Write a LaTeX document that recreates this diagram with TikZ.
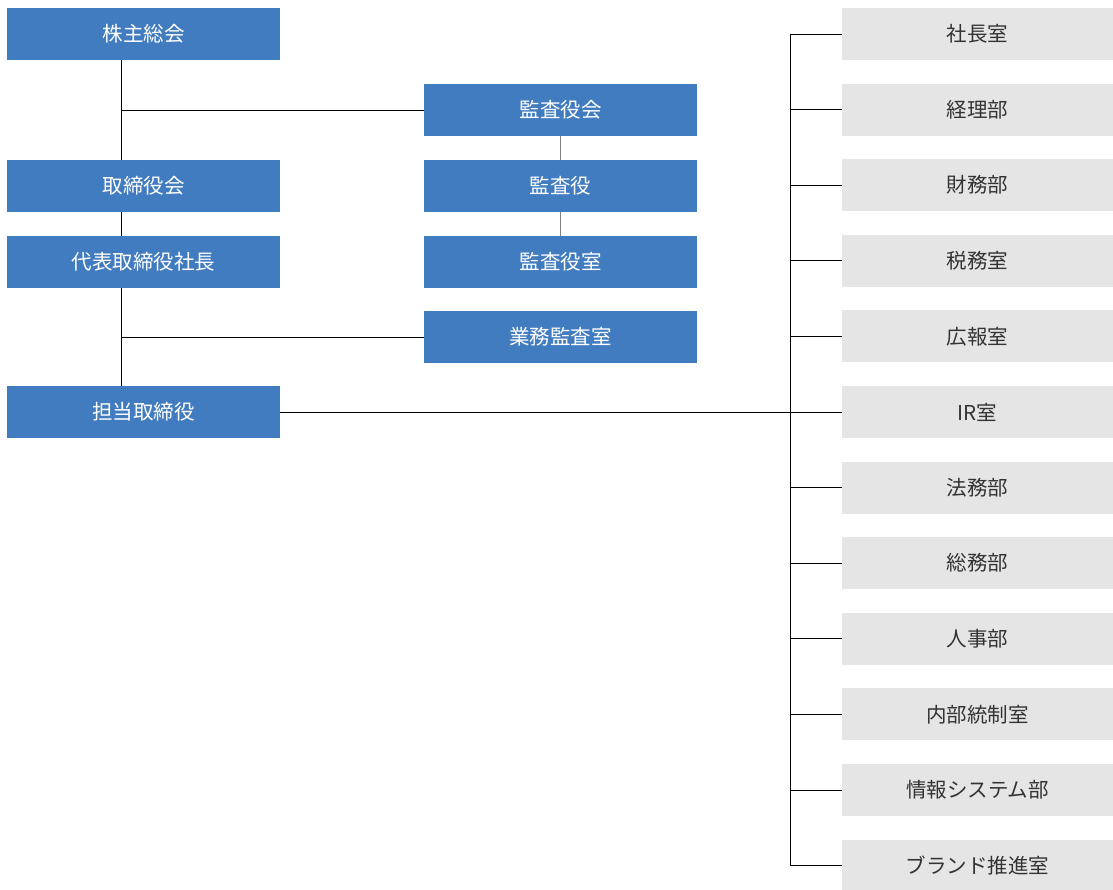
\documentclass[tikz,border=0pt]{standalone}
\usepackage{fontspec}
\setmainfont{Noto Sans CJK JP}
\definecolor{boxblue}{HTML}{427CC0}
\definecolor{boxgray}{HTML}{E6E5E6}
\definecolor{textgray}{HTML}{333333}
\definecolor{linegray}{HTML}{7F7F7F}

\begin{document}
\begin{tikzpicture}[x=1pt,y=-1pt,
		bluebox/.style={fill=boxblue, text=white, minimum width=273pt, minimum height=52pt, inner sep=0pt, font=\fontsize{20.5}{24}\selectfont},
		graybox/.style={fill=boxgray, text=textgray, minimum width=271pt, minimum height=52pt, inner sep=0pt, font=\fontsize{20.5}{24}\selectfont},
		conn/.style={draw=black, line width=1pt}]
		\useasboundingbox (0,0) rectangle (1113,889);
		
		% left column
		\node[bluebox] (soukai) at (143.5,34) {株主総会};
		\node[bluebox] (torikai) at (143.5,186) {取締役会};
		\node[bluebox] (shachou) at (143.5,262) {代表取締役社長};
		\node[bluebox] (tantou) at (143.5,412) {担当取締役};
		
		% audit column
		\node[bluebox] (kansakai) at (560.5,110) {監査役会};
		\node[bluebox] (kansa) at (560.5,186) {監査役};
		\node[bluebox] (kansashitsu) at (560.5,262) {監査役室};
		\node[bluebox] (gyoumu) at (560.5,337) {業務監査室};
		
		% departments
		\foreach \name [count=\i] in {社長室,経理部,財務部,税務室,広報室,IR室,法務部,総務部,人事部,内部統制室,情報システム部,ブランド推進室}
			\node[graybox] (dept\i) at (977.5,{34+75.6*(\i-1)}) {\name};
		
		\coordinate (trunk) at (121,0);
		\coordinate (spine) at (790,0);
		
		\draw[conn] (trunk |- soukai.south) -- (trunk |- torikai.north);
		\draw[conn] (trunk |- torikai.south) -- (trunk |- shachou.north);
		\draw[conn] (trunk |- shachou.south) -- (trunk |- tantou.north);
		\draw[conn] (trunk |- kansakai.west) -- (kansakai.west);
		\draw[conn] (trunk |- gyoumu.west) -- (gyoumu.west);
		
		\draw[draw=linegray, line width=1.3pt] (kansakai.south) -- (kansa.north);
		\draw[draw=linegray, line width=1.3pt] (kansa.south) -- (kansashitsu.north);
		
		\draw[conn] (tantou.east) -- (spine |- tantou.east);
		\draw[conn] (spine |- dept1.west) -- (spine |- dept12.west);
		\foreach \i in {1,...,12}
			\draw[conn] (spine |- dept\i.west) -- (dept\i.west);
	\end{tikzpicture}
\end{document}
